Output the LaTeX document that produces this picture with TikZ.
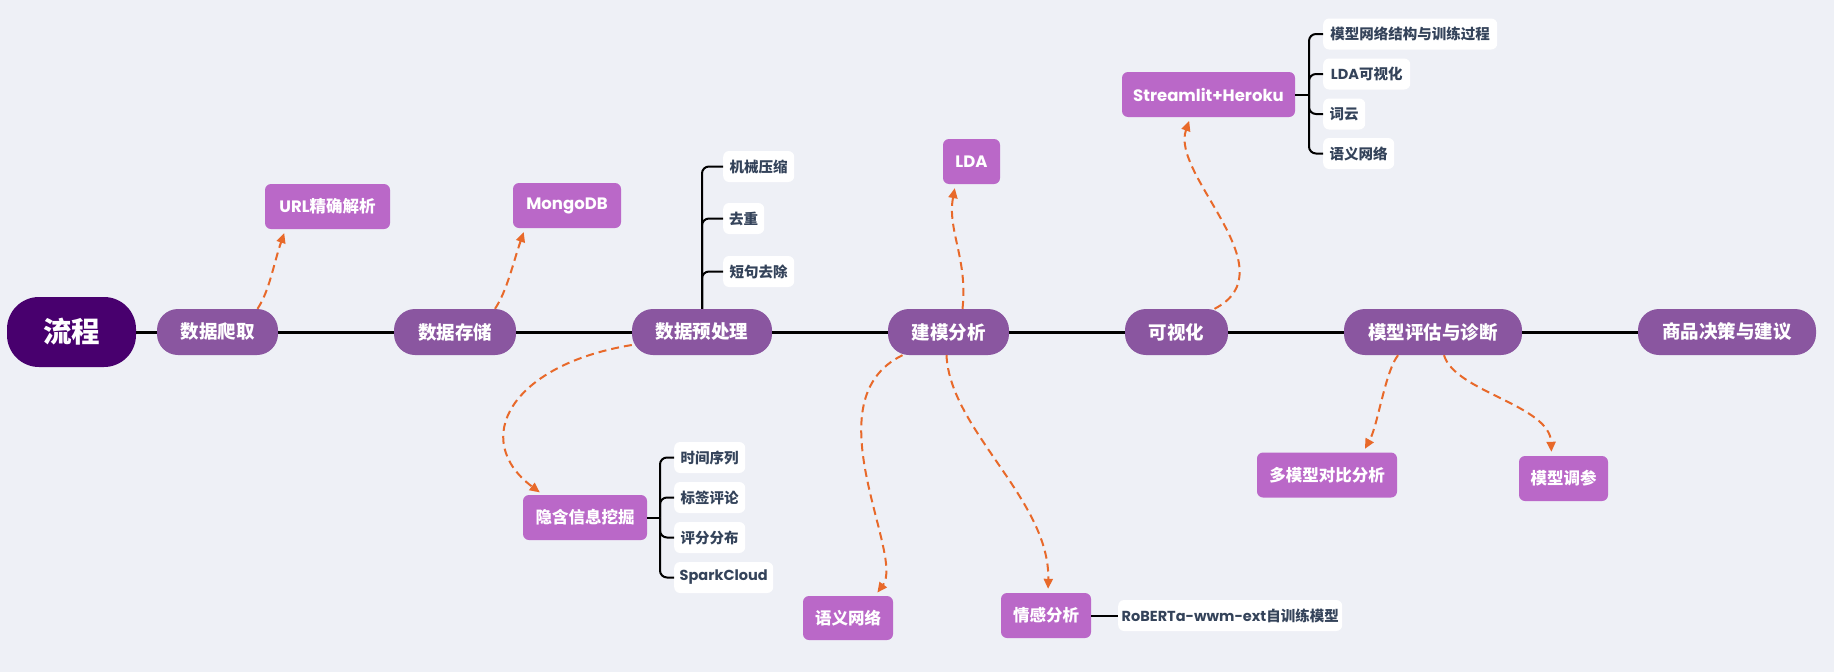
\documentclass[tikz,border=0pt]{standalone}
\usepackage{fontspec}
\usetikzlibrary{arrows.meta}
\newfontfamily\cjk{Noto Sans CJK SC}
\newfontfamily\lat{Poppins}
\definecolor{bgc}{RGB}{238,240,246}
\definecolor{rootc}{RGB}{72,0,110}
\definecolor{stagec}{RGB}{138,86,160}
\definecolor{subc}{RGB}{186,104,200}
\definecolor{leafc}{RGB}{52,67,90}
\definecolor{flowc}{RGB}{232,105,42}
\begin{document}
\begin{tikzpicture}[x=1pt,y=-1pt,
  base/.style={rectangle,inner sep=0pt,align=center},
  rootbox/.style={base,fill=rootc,text=white,minimum height=70pt,rounded corners=32pt,
    font=\cjk\bfseries\fontsize{28.5}{30}\selectfont},
  stage/.style={base,fill=stagec,text=white,minimum height=46pt,rounded corners=21pt,
    font=\cjk\bfseries\fontsize{18.5}{20}\selectfont},
  sub/.style={base,fill=subc,text=white,minimum height=45pt,rounded corners=6pt,
    font=\cjk\bfseries\fontsize{16.5}{18}\selectfont},
  leaf/.style={base,fill=white,text=leafc,minimum height=31pt,rounded corners=6pt,anchor=west,
    font=\cjk\bfseries\fontsize{14.5}{16}\selectfont},
  trunk/.style={draw=black,line width=3pt},
  tree/.style={draw=black,line width=2pt,rounded corners=7pt},
  flow/.style={draw=flowc,line width=2pt,dash pattern=on 8pt off 5pt,
    -{Triangle[length=10pt,width=9pt]},shorten >=4pt}
]
% canvas
\fill[bgc] (0,0) rectangle (1834,672);
\useasboundingbox (0,0) rectangle (1834,672);

% main process stages
\node[rootbox,minimum width=129pt] (root) at (71.5,332) {流程};
\node[stage,minimum width=121pt] (n1) at (217.5,332) {数据爬取};
\node[stage,minimum width=122pt] (n2) at (455,332) {数据存储};
\node[stage,minimum width=140pt] (n3) at (702,332) {数据预处理};
\node[stage,minimum width=121pt] (n4) at (948.5,332) {建模分析};
\node[stage,minimum width=103pt] (n5) at (1176.5,332) {可视化};
\node[stage,minimum width=178pt] (n6) at (1433,332) {模型评估与诊断};
\node[stage,minimum width=178pt] (n7) at (1727,332) {商品决策与建议};

\draw[trunk] (root) -- (n1);
\draw[trunk] (n1) -- (n2);
\draw[trunk] (n2) -- (n3);
\draw[trunk] (n3) -- (n4);
\draw[trunk] (n4) -- (n5);
\draw[trunk] (n5) -- (n6);
\draw[trunk] (n6) -- (n7);

% detail topics
\node[sub,minimum width=125pt] (url) at (327.5,206.5) {{\lat URL}精确解析};
\node[sub,minimum width=108pt] (mongo) at (567,205.5) {\lat MongoDB};
\node[sub,minimum width=57pt] (lda) at (971.5,161.5) {\lat LDA};
\node[sub,minimum width=173pt] (st) at (1208.5,94.5) {\lat Streamlit+Heroku};
\node[sub,minimum width=124pt] (hid) at (585,517.5) {隐含信息挖掘};
\node[sub,minimum width=90pt,minimum height=44pt] (sem) at (848,618) {语义网络};
\node[sub,minimum width=90pt] (emo) at (1046,615.5) {情感分析};
\node[sub,minimum width=140pt] (cmp) at (1327,475) {多模型对比分析};
\node[sub,minimum width=89pt] (tune) at (1563.5,478.5) {模型调参};

% leaves: preprocessing
\node[leaf,minimum width=71pt] (p1) at (723,166.5) {机械压缩};
\node[leaf,minimum width=41pt] (p2) at (723,218.5) {去重};
\node[leaf,minimum width=71pt] (p3) at (723,271.5) {短句去除};
\draw[tree] (n3.north) |- (p1.west);
\draw[tree] (n3.north) |- (p2.west);
\draw[tree] (n3.north) |- (p3.west);

% leaves: dashboard
\node[leaf,minimum width=174pt] (v1) at (1323,34) {模型网络结构与训练过程};
\node[leaf,minimum width=87pt] (v2) at (1323,74) {{\lat LDA}可视化};
\node[leaf,minimum width=42pt] (v3) at (1323,114) {词云};
\node[leaf,minimum width=71pt] (v4) at (1323,153.5) {语义网络};
\coordinate (stfork) at (1309,94.5);
\draw[tree] (st.east) -- (stfork);
\draw[tree] (stfork) |- (v1.west);
\draw[tree] (stfork) |- (v2.west);
\draw[tree] (stfork) |- (v3.west);
\draw[tree] (stfork) |- (v4.west);

% leaves: hidden information mining
\node[leaf,minimum width=71pt] (h1) at (674,457.5) {时间序列};
\node[leaf,minimum width=71pt] (h2) at (674,497.5) {标签评论};
\node[leaf,minimum width=71pt] (h3) at (674,537.5) {评分分布};
\node[leaf,minimum width=99pt] (h4) at (674,577.5) {\lat SparkCloud};
\coordinate (hfork) at (660,517.5);
\draw[tree] (hid.east) -- (hfork);
\draw[tree] (hfork) |- (h1.west);
\draw[tree] (hfork) |- (h2.west);
\draw[tree] (hfork) |- (h3.west);
\draw[tree] (hfork) |- (h4.west);

% leaf: sentiment model
\node[leaf,minimum width=224pt] (rob) at (1118,615.5) {{\lat RoBERTa-wwm-ext}自训练模型};
\draw[tree] (emo) -- (rob);

% dashed links from stages to topics
\draw[flow] ([xshift=40pt]n1.north) .. controls +(12,-18) and +(-12,35) .. ([xshift=-42pt]url.south);
\draw[flow] ([xshift=40pt]n2.north) .. controls +(12,-18) and +(-12,35) .. ([xshift=-42pt]mongo.south);
\draw[flow] ([yshift=-13pt]n3.west) .. controls (510,365) and (470,440) .. ([xshift=-42pt]hid.north);
\draw[flow] ([xshift=14pt]n4.north) .. controls (968,259) and (947,230) .. ([xshift=-16pt]lda.south);
\draw[flow] ([xshift=38pt]n5.north) .. controls (1290,270) and (1170,175) .. ([xshift=-18pt]st.south);
\draw[flow] ([xshift=-46pt]n4.south) .. controls (810,400) and (905,555) .. ([xshift=27pt]sem.north);
\draw[flow] ([xshift=-2pt]n4.south) .. controls (950,430) and (1050,500) .. ([xshift=2pt]emo.north);
\draw[flow] ([xshift=-35pt]n6.south) .. controls (1385,372) and (1378,425) .. ([xshift=36pt]cmp.north);
\draw[flow] ([xshift=11pt]n6.south) .. controls (1455,392) and (1550,405) .. ([xshift=-12pt]tune.north);
\end{tikzpicture}
\end{document}
